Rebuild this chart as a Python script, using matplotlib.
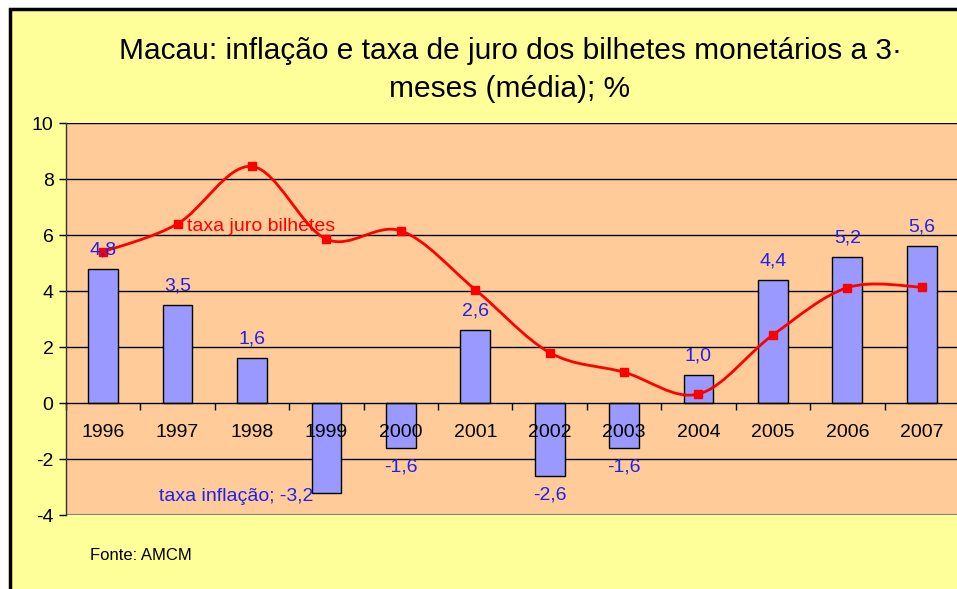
import numpy as np
import matplotlib
matplotlib.use("Agg")
import matplotlib.pyplot as plt
from matplotlib.patches import Rectangle
from matplotlib.path import Path
from matplotlib.patches import PathPatch

plt.rcParams['font.family'] = ['Liberation Sans', 'DejaVu Sans']

years = ['1996', '1997', '1998', '1999', '2000', '2001', '2002', '2003', '2004', '2005', '2006', '2007']
inflacao = [4.8, 3.5, 1.6, -3.2, -1.6, 2.6, -2.6, -1.6, 1.0, 4.4, 5.2, 5.6]
juro = [5.4, 6.4, 8.45, 5.85, 6.15, 4.05, 1.8, 1.1, 0.32, 2.43, 4.12, 4.14]
title = "Macau: inflação e taxa de juro dos bilhetes monetários a 3·\nmeses (média); %"

W, H = 957, 589
fig = plt.figure(figsize=(W / 100, H / 100), dpi=100)
fig.patch.set_facecolor('white')
# chart area frame
fig.patches.append(Rectangle((9.5 / W, -0.1), 1.2, (H - 8.5) / H + 0.1, transform=fig.transFigure,
                             facecolor='#FFFF99', edgecolor='black', linewidth=2.5, zorder=-5))

ax = fig.add_axes([66 / W, (H - 515) / H, (W - 66) / W + 0.002, (515 - 123) / H])
ax.set_zorder(1)
ax.set_facecolor('#FFCC99')
n = len(years)
x = np.arange(n)
ax.set_xlim(-0.5, n - 0.5)
ax.set_ylim(-4, 10)

for gy in [-2, 2, 4, 6, 8, 10]:
    ax.axhline(gy, color='black', linewidth=1, zorder=1)
ax.axhline(-4, color='#808080', linewidth=1.5, zorder=1)

ax.bar(x, inflacao, width=0.4, color='#9999FF', edgecolor='black', linewidth=1, zorder=2)

# Excel-like smoothed line (Catmull-Rom Bezier)
P = np.column_stack([x, juro]).astype(float)
Pext = np.vstack([P[0], P, P[-1]])
verts = [tuple(P[0])]
codes = [Path.MOVETO]
for i in range(n - 1):
    p0, p1, p2, p3 = Pext[i], Pext[i + 1], Pext[i + 2], Pext[i + 3]
    c1 = p1 + (p2 - p0) / 6
    c2 = p2 - (p3 - p1) / 6
    verts += [tuple(c1), tuple(c2), tuple(p2)]
    codes += [Path.CURVE4] * 3
ax.add_patch(PathPatch(Path(verts, codes), facecolor='none', edgecolor='#FF0000', linewidth=2, zorder=3))
ax.plot(x, juro, linestyle='none', marker='s', markersize=6, color='#FF0000', zorder=4)

# spines
for s in ['top', 'right']:
    ax.spines[s].set_visible(False)
ax.spines['bottom'].set_position(('data', 0))
ax.spines['bottom'].set_color('black')
ax.spines['left'].set_color('#333333')
ax.spines['left'].set_linewidth(1)
ax.spines['bottom'].set_linewidth(1)

ax.set_yticks(np.arange(-4, 11, 2))
ax.set_yticklabels([str(v) for v in range(-4, 11, 2)], fontsize=14)
ax.tick_params(axis='y', direction='out', length=5, width=1, pad=4)
ax.set_xticks(np.arange(-0.5, n, 1))
ax.set_xticklabels([])
ax.tick_params(axis='x', direction='out', length=5, width=1)

for xi, yr in zip(x, years):
    ax.text(xi, -1.07, yr, ha='center', va='center', fontsize=14, color='black', zorder=5)

blue = '#2020F0'
for xi, v in zip(x, inflacao):
    lab = f"{v:.1f}".replace('.', ',')
    if v >= 0:
        ax.text(xi, v + 0.68, lab, ha='center', va='center', fontsize=14, color=blue, zorder=5)
    elif years[xi] == '1999':
        ax.text(xi - 0.18, v - 0.15, 'taxa inflação; ' + lab, ha='right', va='center',
                fontsize=14, color=blue, zorder=5)
    else:
        ax.text(xi, v - 0.7, lab, ha='center', va='center', fontsize=14, color=blue, zorder=5)

ax.text(1 + 0.13, juro[1] - 0.1, 'taxa juro bilhetes', ha='left', va='center', fontsize=14,
        color='#FF0000', zorder=5)

fig.text(510 / W, 1 - 70 / H, title, ha='center', va='center', fontsize=21.5, linespacing=1.42)
fig.text(90 / W, 1 - 555 / H, 'Fonte: AMCM', ha='left', va='center', fontsize=12)

fig.savefig('out.png', dpi=100, facecolor=fig.get_facecolor())
